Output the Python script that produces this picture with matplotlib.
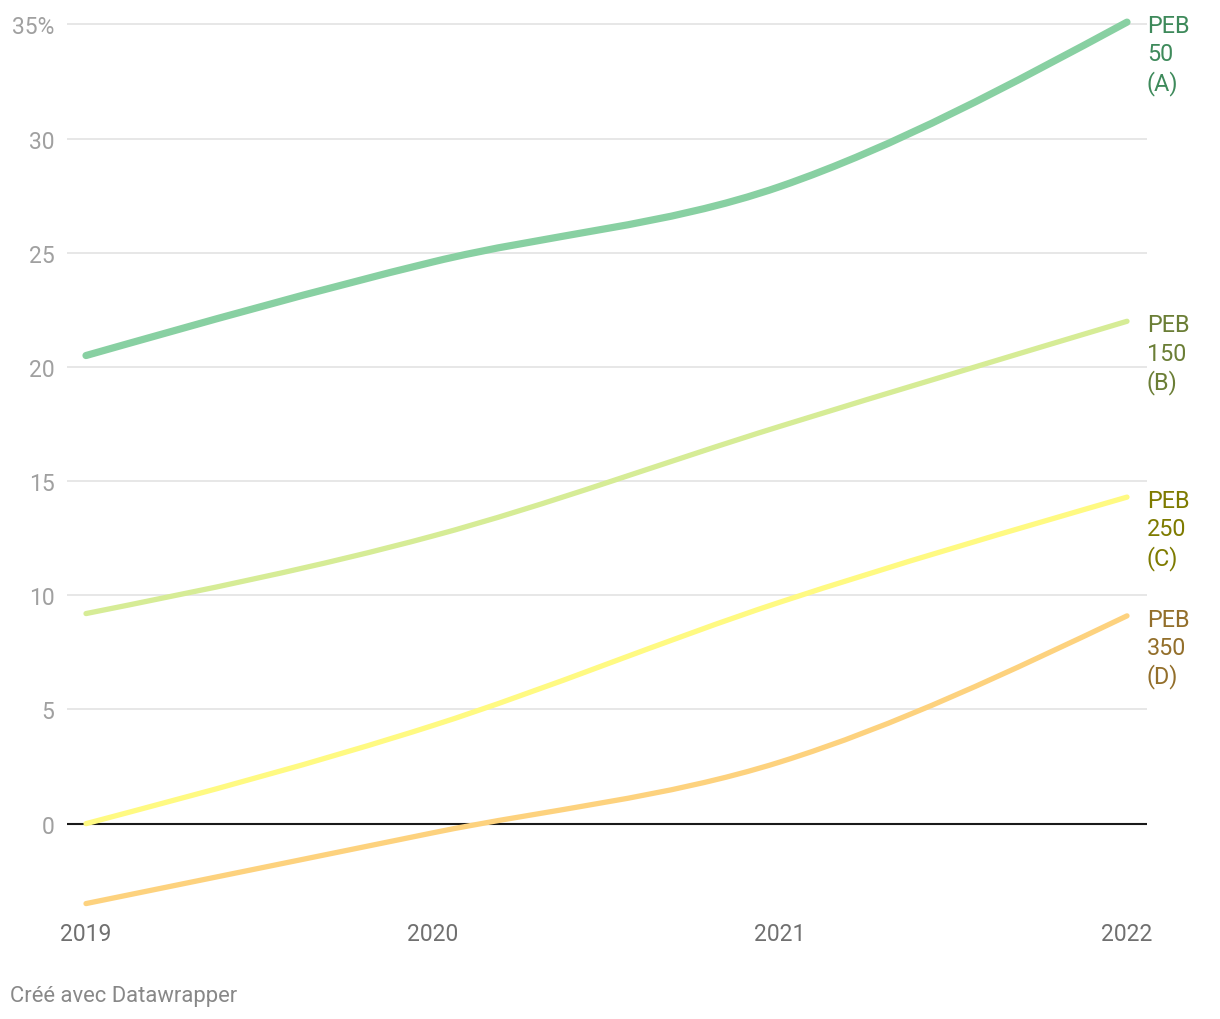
import matplotlib.pyplot as plt
from matplotlib.path import Path
from matplotlib.patches import PathPatch
import numpy as np

plt.rcParams['font.family'] = ['Roboto', 'DejaVu Sans']

years = [2019, 2020, 2021, 2022]
peb_50 = [20.5, 24.6, 27.9, 35.1]
peb_150 = [9.2, 12.6, 17.4, 22.0]
peb_250 = [0.0, 4.3, 9.7, 14.3]
peb_350 = [-3.5, -0.4, 2.7, 9.1]

series = [
    ('PEB\n50\n(A)', peb_50, '#88d0a2', '#3e8a5b', 5.2),
    ('PEB\n150\n(B)', peb_150, '#d6ec96', '#6b7e36', 3.8),
    ('PEB\n250\n(C)', peb_250, '#fffa82', '#7e7b00', 3.8),
    ('PEB\n350\n(D)', peb_350, '#fdd27e', '#936f2b', 3.8),
]

y_ticks = [0, 5, 10, 15, 20, 25, 30, 35]
y_labels = ['0', '5', '10', '15', '20', '25', '30', '35%']


def monotone_path(xs, ys):
    # same tangents as d3.curveMonotoneX, drawn as cubic bezier segments
    xs = np.asarray(xs, float)
    ys = np.asarray(ys, float)
    n = len(xs)
    h = np.diff(xs)
    s = np.diff(ys) / h
    t = np.zeros(n)
    for i in range(1, n - 1):
        p = (s[i - 1] * h[i] + s[i] * h[i - 1]) / (h[i - 1] + h[i])
        t[i] = (np.sign(s[i - 1]) + np.sign(s[i])) * min(abs(s[i - 1]), abs(s[i]), 0.5 * abs(p))
    t[0] = (3 * s[0] - t[1]) / 2
    t[-1] = (3 * s[-1] - t[-2]) / 2
    verts = [(xs[0], ys[0])]
    codes = [Path.MOVETO]
    for i in range(n - 1):
        dx = h[i] / 3
        verts += [(xs[i] + dx, ys[i] + dx * t[i]),
                  (xs[i + 1] - dx, ys[i + 1] - dx * t[i + 1]),
                  (xs[i + 1], ys[i + 1])]
        codes += [Path.CURVE4] * 3
    return Path(verts, codes)


fig = plt.figure(figsize=(12.2, 10.2), dpi=100)
ax = fig.add_axes([67 / 1220, 1 - 916 / 1020, (1147 - 67) / 1220, (916 - 14) / 1020])
ax.set_xlim(2019 - 19 / 347, 2022 + 20 / 347)
ax.set_ylim(-4, 35.5)

for sp in ax.spines.values():
    sp.set_visible(False)

for v in y_ticks:
    if v == 0:
        ax.axhline(v, color='#1a1a1a', lw=1.5, zorder=3)
    else:
        ax.axhline(v, color='#e3e3e3', lw=1.2, zorder=1)

ax.set_yticks(y_ticks)
ax.set_yticklabels(y_labels)
ax.set_xticks(years)
ax.set_xticklabels([str(y) for y in years])
ax.tick_params(axis='y', length=0, pad=9, labelsize=16.5, labelcolor='#a0a0a0')
ax.tick_params(axis='x', length=0, pad=5, labelsize=16.5, labelcolor='#707070')

for label, vals, color, tcolor, lw in series:
    patch = PathPatch(monotone_path(years, vals), facecolor='none', edgecolor=color,
                      lw=lw, capstyle='round', joinstyle='round', zorder=4, clip_on=False)
    ax.add_patch(patch)
    for i, line in enumerate(label.split('\n')):
        ax.annotate(line, (years[-1], vals[-1]), xytext=(14.4, -2.5 - i * 20.4),
                    textcoords='offset points', va='center', ha='left',
                    fontsize=16.8, color=tcolor, annotation_clip=False)

fig.text(10 / 1220, 1 - 997 / 1020, 'Créé avec Datawrapper', fontsize=15.8,
         color='#888888', va='center', ha='left')

fig.savefig('out.png', dpi=100)
